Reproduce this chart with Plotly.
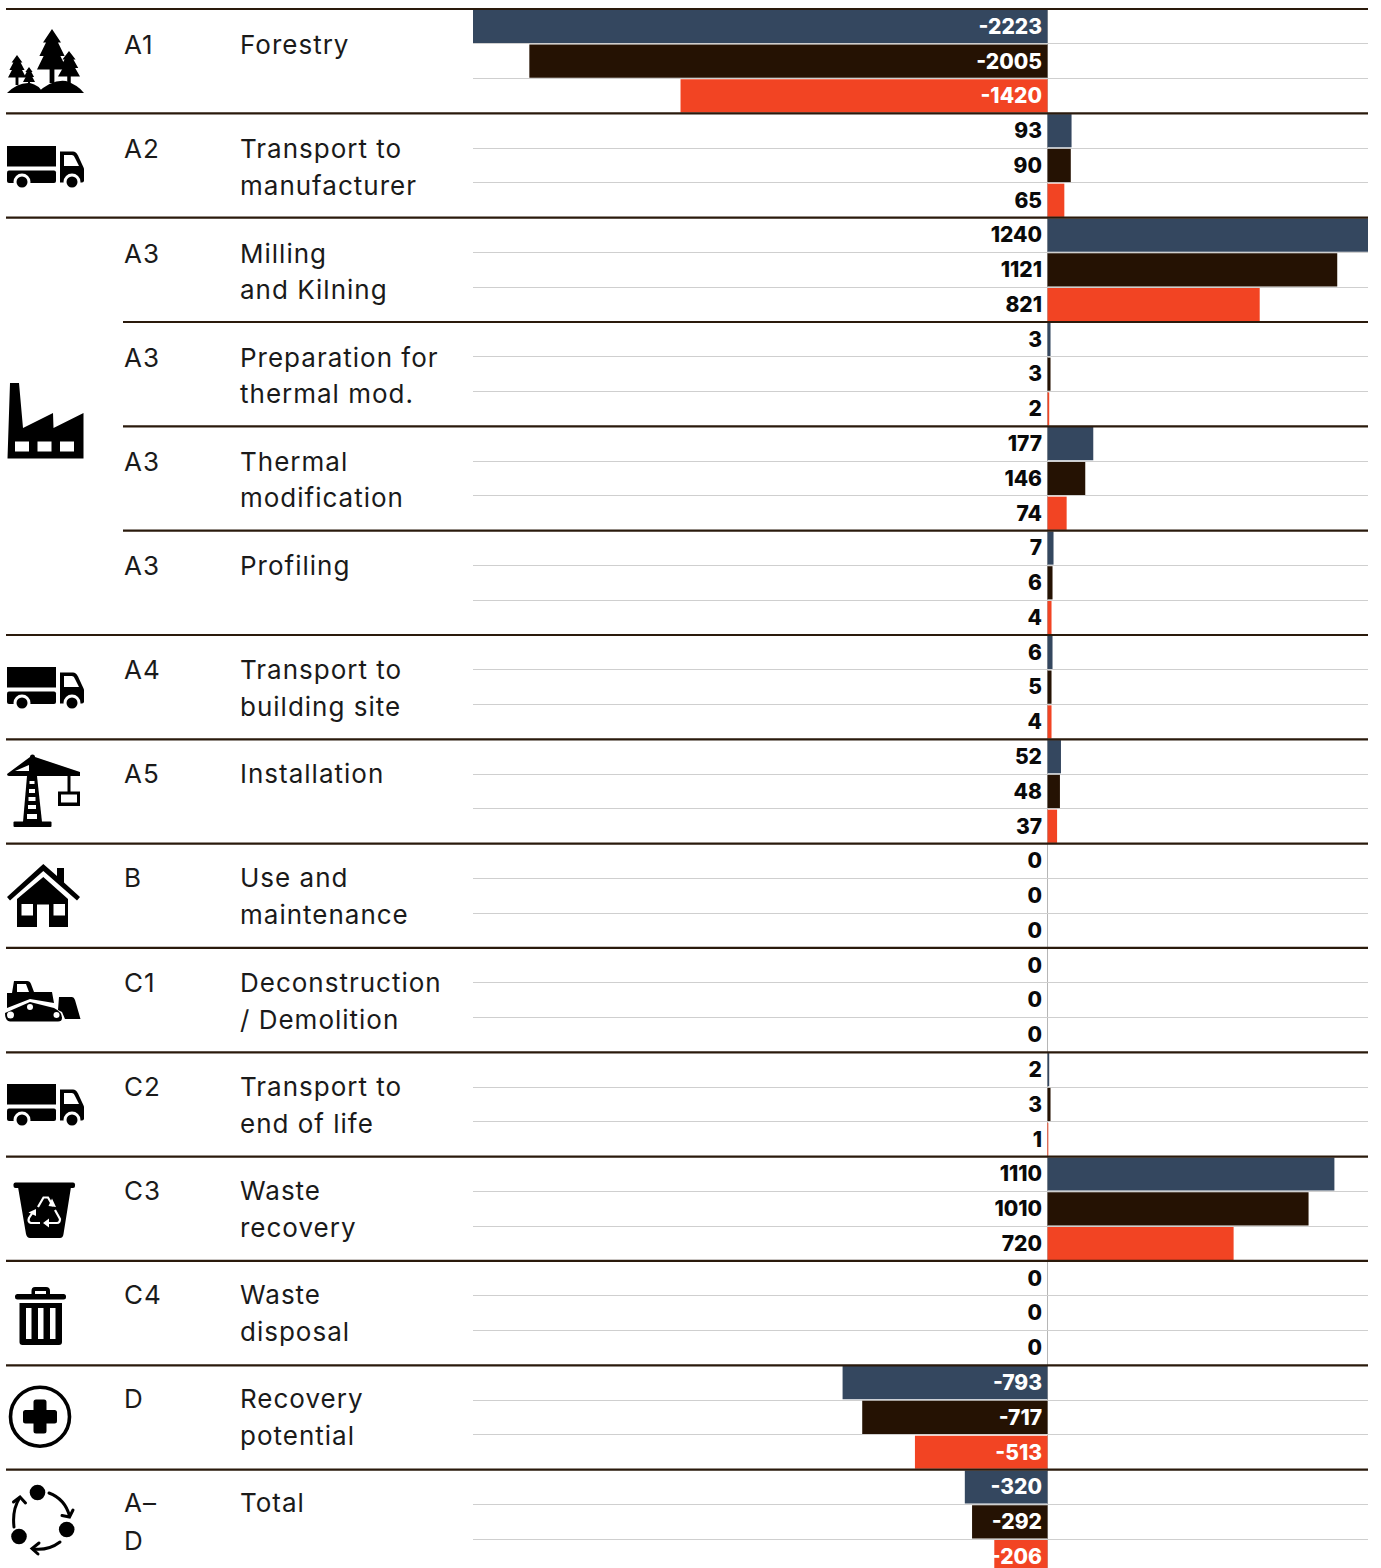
import base64
import plotly.graph_objects as go

W, H = 1381, 1568

codes = ["A1", "A2", "A3", "A3", "A3", "A3", "A4", "A5", "B", "C1", "C2", "C3", "C4", "D", "A–|D"]
labels = ["Forestry", "Transport to|manufacturer", "Milling|and Kilning", "Preparation for|thermal mod.",
          "Thermal|modification", "Profiling", "Transport to|building site", "Installation",
          "Use and|maintenance", "Deconstruction|/ Demolition", "Transport to|end of life",
          "Waste|recovery", "Waste|disposal", "Recovery|potential", "Total"]
series_1 = [-2223, 93, 1240, 3, 177, 7, 6, 52, 0, 0, 2, 1110, 0, -793, -320]
series_2 = [-2005, 90, 1121, 3, 146, 6, 5, 48, 0, 0, 3, 1010, 0, -717, -292]
series_3 = [-1420, 65, 821, 2, 74, 4, 4, 37, 0, 0, 1, 720, 0, -513, -206]

NAVY, BROWN, ORANGE = "#34475f", "#251203", "#f24423"
LINE, GRID = "#2a1a0c", "#cfcfcf"
FONT = "Inter"

TOP = 9.0
PAD = 6.0
SUB = 104.33 / 3
n = len(codes)
xmin, xmax = -2223, 1240
ymax = (H - TOP) / SUB
PX_PER_UNIT = 895 / (xmax - xmin)
# the reference draws its tiniest bars wider than their scale: drawn widths in px, by value
MIN_DRAWN = {1: 0.7, 2: 1.7, 3: 3.0, 4: 4.0, 5: 4.0, 6: 5.0, 7: 6.0}
BAR_H = 0.955
LABEL_X = -5.5 / PX_PER_UNIT
LABEL_DY = 0.06


def py(v):
    return 3 * v  # row index to sub-bar units


fig = go.Figure()
all_x, all_y, all_t, all_c = [], [], [], []
for k, (name, vals, col) in enumerate([("Series 1", series_1, NAVY), ("Series 2", series_2, BROWN), ("Series 3", series_3, ORANGE)]):
    ys = [py(i) + k + 0.5 for i in range(n)]
    outline = [max(MIN_DRAWN[v] - v * PX_PER_UNIT, 0) if v in MIN_DRAWN else 0 for v in vals]
    fig.add_trace(go.Bar(x=vals, y=ys, orientation="h", name=name,
                         base=[w / 2 / PX_PER_UNIT for w in outline],
                         width=[BAR_H - w / SUB for w in outline],
                         marker=dict(color=col, line=dict(width=outline, color=col)),
                         showlegend=False, hoverinfo="x"))
    all_x += [LABEL_X] * n
    all_y += [y + LABEL_DY for y in ys]
    all_t += [str(v) for v in vals]
    all_c += ["white" if v < 0 else "#0a0a0a" for v in vals]

fig.add_trace(go.Scatter(x=all_x, y=all_y, mode="text", text=all_t, textposition="middle left",
                         textfont=dict(family=FONT, size=21, color=all_c, weight=800),
                         showlegend=False, hoverinfo="skip", cliponaxis=False))

shapes = []
for i in range(n):
    x0 = 123 / W if i in (3, 4, 5) else 6 / W
    shapes.append(dict(type="line", xref="paper", yref="y", x0=x0, x1=1368 / W, y0=py(i), y1=py(i),
                       line=dict(color=LINE, width=2.2), layer="above"))

annotations = []
for i in range(n):
    y1 = py(i) + 1.03 - i * 0.0055
    y2 = py(i) + 2.07 - i * 0.003
    for j, t in enumerate(codes[i].split("|")):
        annotations.append(dict(xref="paper", yref="y", x=121.5 / W, y=y1 if j == 0 else y2, text=t,
                                showarrow=False, xanchor="left", yanchor="middle", font=dict(family=FONT, size=26, color="#1a1a1a", weight=400)))
    for j, t in enumerate(labels[i].split("|")):
        annotations.append(dict(xref="paper", yref="y", x=237.5 / W, y=y1 if j == 0 else y2, text=t,
                                showarrow=False, xanchor="left", yanchor="middle", font=dict(family=FONT, size=26, color="#1a1a1a", weight=400)))


def truck(y):
    dy = y - 146
    return (7, y, 78, 43, f'''<g transform="translate(0 {dy})"><rect x="7" y="146" width="49" height="20.5"/>
<rect x="7" y="170.5" width="49" height="12.5" rx="2"/>
<path d="M60 151.5h13q3 0 5 4l6 13v12q0 2-2 2H60z"/><path d="M64 155h8q2 0 3 3l4 8H64z" fill="#fff"/>
<circle cx="22" cy="182" r="8.5" fill="#fff"/><circle cx="22" cy="182" r="5.5"/>
<circle cx="72" cy="182" r="8.5" fill="#fff"/><circle cx="72" cy="182" r="5.5"/></g>''')


def tree(cx, top, h, w):
    t = h / 4
    return (f'<path d="M{cx} {top}L{cx+w*.3} {top+t}L{cx+w*.2} {top+t}L{cx+w*.42} {top+2*t}L{cx+w*.28} {top+2*t}'
            f'L{cx+w*.5} {top+3*t}L{cx+w*.08} {top+3*t}L{cx+w*.08} {top+h}L{cx-w*.08} {top+h}L{cx-w*.08} {top+3*t}'
            f'L{cx-w*.5} {top+3*t}L{cx-w*.28} {top+2*t}L{cx-w*.42} {top+2*t}L{cx-w*.2} {top+t}L{cx-w*.3} {top+t}z"/>')


forest = (6, 28, 80, 67, tree(52, 29, 54, 30) + tree(69, 51, 34, 22) + tree(17, 55, 30, 18) + tree(29, 67, 20, 12) +
          '''<path d="M37 93Q52 79 66 81Q78 85 84 93z"/><path d="M7 93Q18 82 30 83Q39 85 43 93z"/>''')

factory = (6, 382, 80, 80, '''<path d="M10 383H19L23 428L53 413L53.5 428L83.5 413V458.5H7.5z"/>
<rect x="15" y="441.5" width="14" height="10" fill="#fff"/><rect x="37.5" y="441.5" width="14" height="10" fill="#fff"/>
<rect x="60" y="441.5" width="14" height="10" fill="#fff"/>''')

crane = (6, 754, 76, 75, '''<path d="M30 757a2.5 2.5 0 0 1 5 0L80 772v4H9q-2 0-2-2zM15 771L29 771L29 765z" fill-rule="evenodd"/>
<path d="M27 776H37L42 822H23z"/><rect x="13.5" y="821.5" width="38" height="5.5" rx="1"/>
<g fill="#fff"><rect x="29.5" y="781" width="5" height="3"/><rect x="29" y="789" width="6" height="4"/><rect x="28.5" y="797" width="7" height="4"/><rect x="28" y="805" width="8" height="4"/><rect x="27" y="814" width="10" height="5"/></g>
<rect x="67.5" y="775" width="3" height="17"/><rect x="58" y="791.5" width="22" height="14.5"/><rect x="61" y="794.5" width="16" height="8" fill="#fff"/>''')

house = (6, 862, 76, 67, '''<path d="M43.3 864L57 876V868H64V882.5L80 897L77 900.5L43.3 871L10 900.5L7 897z"/>
<path d="M43.3 877L68 899V927H49V904.5H37V927H17V899z"/>
<rect x="21.5" y="904" width="11.5" height="11.5" fill="#fff"/><rect x="53.5" y="904" width="11.5" height="11.5" fill="#fff"/>''')

bulldozer = (4, 978, 78, 46, '''<path d="M14 981H27Q30 981 31 984L34 992H52L54 1003L30 999L7 1008V993L12 993z"/><path d="M17 984H26L29 992H17z" fill="#fff"/>
<path d="M5 1013L30 1002L54 1008Q62 1012 62 1018Q62 1021.5 58 1021.5H10Q5 1021 5 1013z"/>
<circle cx="10.5" cy="1015" r="3.5" fill="#fff"/><circle cx="30" cy="1007" r="3" fill="#fff"/><circle cx="56.5" cy="1015" r="3" fill="#fff"/>
<path d="M59 997H72Q74 997 75 1000L80.5 1019H65L62 1012L58 1010z"/>''')

bin_ = (12, 1181, 65, 59, '''<rect x="13.5" y="1182.5" width="61.5" height="5.5" rx="2"/><path d="M18 1187H71L63.5 1234Q63 1238 60 1238H30Q27 1238 26 1234z"/>
<g fill="none" stroke="#fff" stroke-width="2.2"><path d="M38 1207L43.5 1197.5L48 1197.5L53 1206"/><path d="M55 1210L60 1219Q60 1223 57 1223H48"/><path d="M40 1223H31Q27.5 1222 29 1218L33 1212"/></g>
<path d="M52 1198.5L56 1207L48.5 1206z M28.5 1212.5L36 1209L36 1216z M49 1218.5V1227.5L43 1223z" fill="#fff"/>''')

trash = (14, 1285, 54, 62, '''<path d="M31.5 1294V1291Q31.5 1287 35 1287H46Q50 1287 50 1291V1294H46V1291H35V1294z"/>
<rect x="15" y="1294" width="51" height="5.5" rx="2.5"/><path d="M19.5 1303H62V1342Q62 1345 59 1345H22.5Q19.5 1345 19.5 1342z"/>
<g fill="#fff"><rect x="26" y="1308" width="5.5" height="31"/><rect x="38" y="1308" width="5.5" height="31"/><rect x="50" y="1308" width="5.5" height="31"/></g>''')

plus = (6, 1384, 68, 68, '''<circle cx="40" cy="1416.7" r="29.5" fill="none" stroke="#000" stroke-width="3.6"/>
<path d="M33.5 1402a2.5 2.5 0 0 1 2.5-2.5h8a2.5 2.5 0 0 1 2.5 2.5V1410H54.5a2.5 2.5 0 0 1 2.5 2.5v8.5a2.5 2.5 0 0 1-2.5 2.5H46.5V1431a2.5 2.5 0 0 1-2.5 2.5h-8a2.5 2.5 0 0 1-2.5-2.5V1423.5H25.5a2.5 2.5 0 0 1-2.5-2.5v-8.5a2.5 2.5 0 0 1 2.5-2.5H33.5z"/>''')

cycle = (8, 1482, 70, 76, '''<circle cx="37.5" cy="1492.5" r="7.8"/><circle cx="66.7" cy="1529.5" r="7.8"/><circle cx="19" cy="1536.5" r="7.8"/>
<g fill="none" stroke="#000" stroke-width="3" stroke-linecap="round"><path d="M49 1493Q65 1499 69.5 1516"/><path d="M62 1515.5L69.5 1517L73 1510"/>
<path d="M60 1542Q48 1551 33 1549"/><path d="M39 1543L32 1548.5L38 1554"/>
<path d="M14 1527Q12 1510 19.5 1498"/><path d="M13.5 1502L20 1497L25.5 1503"/></g>''')

icons = [forest, truck(146), factory, truck(667), crane, house, bulldozer, truck(1084), bin_, trash, plus, cycle]

images = []
for (x, y, w, h, body) in icons:
    svg = (f'<svg xmlns="http://www.w3.org/2000/svg" width="{w*3}" height="{h*3}" viewBox="{x} {y} {w} {h}">{body}</svg>')
    src = "data:image/svg+xml;base64," + base64.b64encode(svg.encode()).decode()
    images.append(dict(source=src, xref="paper", yref="paper", x=x / W, y=1 - y / H, sizex=w / W, sizey=h / H,
                       xanchor="left", yanchor="top", sizing="stretch", layer="above"))

grid_vals = [py(i) + d for i in range(n) for d in (1, 2)]

fig.update_layout(
    width=W, height=H, margin=dict(l=0, r=0, t=0, b=0), paper_bgcolor="white", plot_bgcolor="white",
    barmode="overlay", showlegend=False, shapes=shapes, annotations=annotations, images=images,
    xaxis=dict(domain=[473 / W, 1368 / W], range=[xmin, xmax], showgrid=False, showticklabels=False, ticks="",
               zeroline=False, fixedrange=True),
    yaxis=dict(domain=[0, 1 - (TOP - PAD) / H], range=[ymax, -PAD / SUB], tickvals=grid_vals, showticklabels=False, ticks="",
               showgrid=True, gridcolor=GRID, gridwidth=1.3, zeroline=False, fixedrange=True),
)
# zero line runs only below the top rule
shapes.append(dict(type="line", xref="x", yref="y", x0=0, x1=0, y0=0, y1=ymax, line=dict(color="#b5b5b5", width=1), layer="below"))
fig.update_layout(shapes=shapes)
fig.write_html("out.html", config=dict(displayModeBar=False),
               post_script="document.body.style.margin='0';document.body.style.overflow='hidden';"
                           "document.querySelectorAll('.annotation-text').forEach(function(t){"
                           "var a=t.getComputedTextLength();t.style.letterSpacing='1px';"
                           "var b=t.getComputedTextLength();t.setAttribute('x',parseFloat(t.getAttribute('x')||0)+(b-a)/2);});")
